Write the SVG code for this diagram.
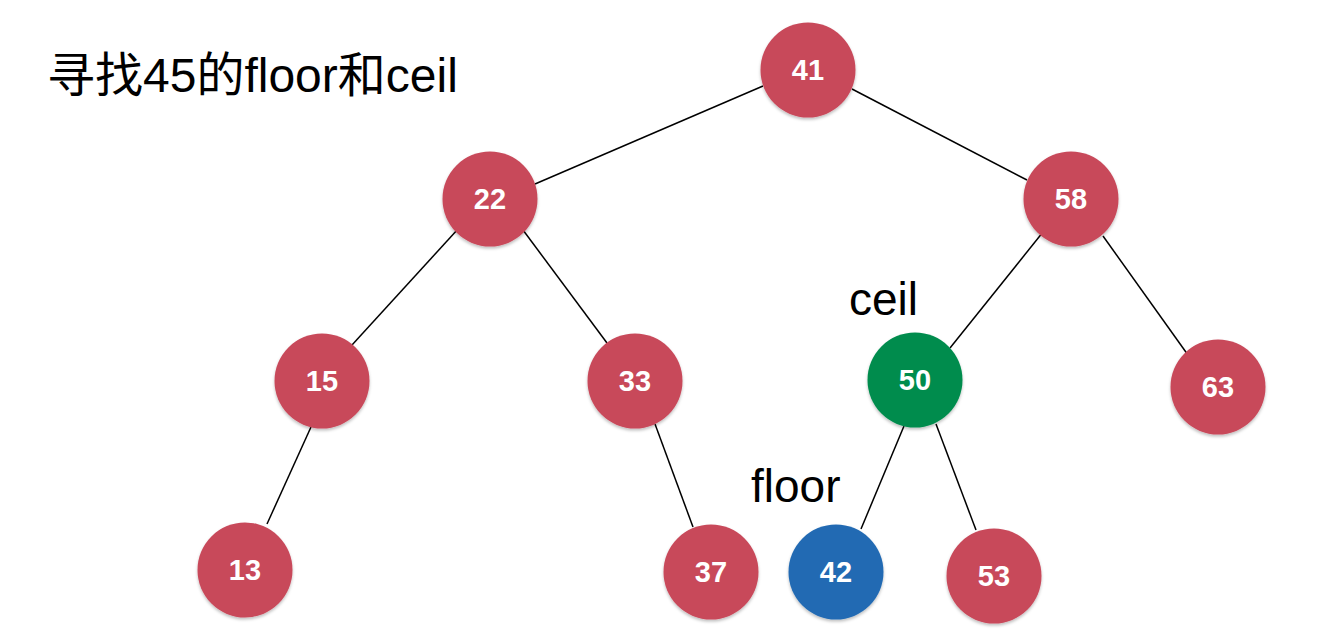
<svg xmlns="http://www.w3.org/2000/svg" width="1338" height="643" viewBox="0 0 1338 643">
<defs>
<filter id="sh" x="-20%" y="-20%" width="140%" height="150%">
<feDropShadow dx="0" dy="2" stdDeviation="1.5" flood-color="#000" flood-opacity="0.25"/>
</filter>
<style>
.n circle{stroke:none;filter:url(#sh)}
.red{fill:#C8485A}
.green{fill:#008C4E}
.blue{fill:#236BB3}
.n text{fill:#fff;font-family:"Liberation Sans",Arial,sans-serif;font-weight:bold;font-size:29px;text-anchor:middle}
.e line{stroke:#000;stroke-width:1.5}
.lbl{fill:#000;font-family:"Liberation Sans",Arial,"Noto Sans CJK SC",sans-serif;font-size:46px}
.title{font-size:48px}
</style>
</defs>
<rect width="1338" height="643" fill="#fff"/>
<text class="lbl title" x="47" y="92">寻找45的floor和ceil</text>
<text class="lbl" x="849" y="315">ceil</text>
<text class="lbl" x="751" y="502">floor</text>
<g class="e" id="edges">
<line x1="763" y1="86" x2="535" y2="184"/>
<line x1="852" y1="89" x2="1027" y2="180"/>
<line x1="458" y1="229" x2="352" y2="345"/>
<line x1="523" y1="230" x2="607" y2="343"/>
<line x1="1043" y1="232" x2="950" y2="348"/>
<line x1="1103" y1="236" x2="1188" y2="355"/>
<line x1="311" y1="427" x2="267" y2="524"/>
<line x1="655" y1="424" x2="693" y2="527"/>
<line x1="904" y1="426" x2="861" y2="529"/>
<line x1="936" y1="424" x2="976" y2="530"/>
</g>
<g class="n" id="n41"><circle class="red" cx="808" cy="70" r="47.5"/><text x="808" y="80">41</text></g>
<g class="n" id="n22"><circle class="red" cx="490" cy="199" r="47.5"/><text x="490" y="209">22</text></g>
<g class="n" id="n58"><circle class="red" cx="1071" cy="199" r="47.5"/><text x="1071" y="209">58</text></g>
<g class="n" id="n15"><circle class="red" cx="322" cy="381" r="47.5"/><text x="322" y="391">15</text></g>
<g class="n" id="n33"><circle class="red" cx="635" cy="381" r="47.5"/><text x="635" y="391">33</text></g>
<g class="n" id="n50"><circle class="green" cx="915" cy="380" r="47.5"/><text x="915" y="390">50</text></g>
<g class="n" id="n63"><circle class="red" cx="1218" cy="387" r="47.5"/><text x="1218" y="397">63</text></g>
<g class="n" id="n13"><circle class="red" cx="245" cy="570" r="47.5"/><text x="245" y="580">13</text></g>
<g class="n" id="n37"><circle class="red" cx="711" cy="572" r="47.5"/><text x="711" y="582">37</text></g>
<g class="n" id="n42"><circle class="blue" cx="836" cy="572" r="47.5"/><text x="836" y="582">42</text></g>
<g class="n" id="n53"><circle class="red" cx="994" cy="576" r="47.5"/><text x="994" y="586">53</text></g>
</svg>
